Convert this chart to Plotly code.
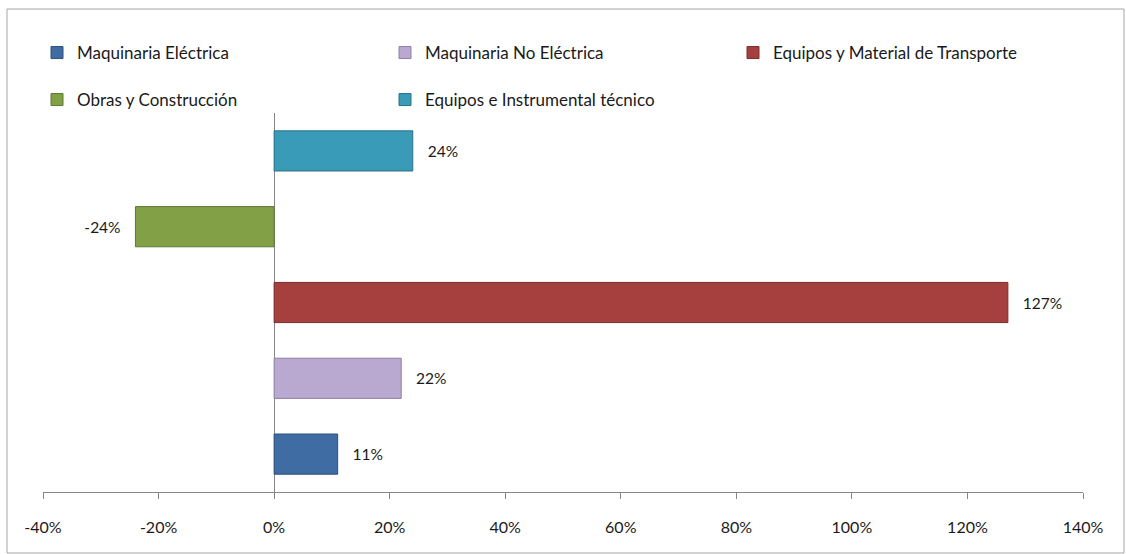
import plotly.graph_objects as go

series = ["Maquinaria Eléctrica", "Maquinaria No Eléctrica", "Equipos y Material de Transporte",
          "Obras y Construcción", "Equipos e Instrumental técnico"]
values = [11, 22, 127, -24, 24]
colors = ["#3F6CA3", "#B9A9D0", "#A6403E", "#82A046", "#3A9BB8"]
edges = ["#2E507A", "#8E7FA6", "#7A2E2C", "#5F7833", "#2A7189"]
legend_ids = ["legend", "legend", "legend", "legend2", "legend2"]
tick_vals = [-40, -20, 0, 20, 40, 60, 80, 100, 120, 140]
tick_text = ["-40%", "-20%", "0%", "20%", "40%", "60%", "80%", "100%", "120%", "140%"]

FONT = "Lato"
W, H = 1126, 554
L, R, T, B = 43, 43, 113, 62
pw, ph = W - L - R, H - T - B

fig = go.Figure()
for name, v, c, e, lg in zip(series, values, colors, edges, legend_ids):
    tmpl = "   %{x:.0f}%" if v >= 0 else "%{x:.0f}%   "
    fig.add_trace(go.Bar(
        x=[v], y=[name], orientation="h", name=name,
        marker=dict(color=c, line=dict(color=e, width=1)),
        width=0.53, texttemplate=tmpl, textposition="outside",
        textfont=dict(family=FONT, size=15.5, color="#1a1a1a"),
        cliponaxis=False, legend=lg,
    ))

def px_x(x):
    return (x - L) / pw

def px_y(y):
    return (H - B - y) / ph

legend_font = dict(family=FONT, size=17, color="#1a1a1a")
fig.update_layout(
    width=W, height=H,
    margin=dict(l=L, r=R, t=T, b=B),
    paper_bgcolor="white", plot_bgcolor="white",
    barmode="overlay",
    font=dict(family=FONT, size=15, color="#1a1a1a"),
    showlegend=True,
    legend=dict(orientation="h", x=px_x(37), y=px_y(53), xanchor="left", yanchor="middle",
                entrywidth=303, entrywidthmode="pixels", traceorder="normal",
                font=legend_font, bgcolor="rgba(0,0,0,0)"),
    legend2=dict(orientation="h", x=px_x(37), y=px_y(100), xanchor="left", yanchor="middle",
                 entrywidth=303, entrywidthmode="pixels", traceorder="normal",
                 font=legend_font, bgcolor="rgba(0,0,0,0)"),
    xaxis=dict(range=[-40, 140], tickvals=tick_vals, ticktext=tick_text, showgrid=False,
               showline=True, linecolor="#868686", linewidth=1, ticks="outside", ticklen=6,
               tickcolor="#868686", zeroline=True, zerolinecolor="#868686", zerolinewidth=1,
               ticklabelstandoff=15, tickfont=dict(family=FONT, size=16, color="#1a1a1a")),
    yaxis=dict(categoryorder="array", categoryarray=series, range=[-0.5, 4.5],
               showticklabels=False, showgrid=False, zeroline=False, showline=False, ticks=""),
    shapes=[dict(type="rect", xref="paper", yref="paper",
                 x0=px_x(7), x1=px_x(1124), y0=px_y(553), y1=px_y(9),
                 line=dict(color="#A6A6A6", width=1), fillcolor="rgba(0,0,0,0)", layer="below")],
)

fig.write_html("out.html")
